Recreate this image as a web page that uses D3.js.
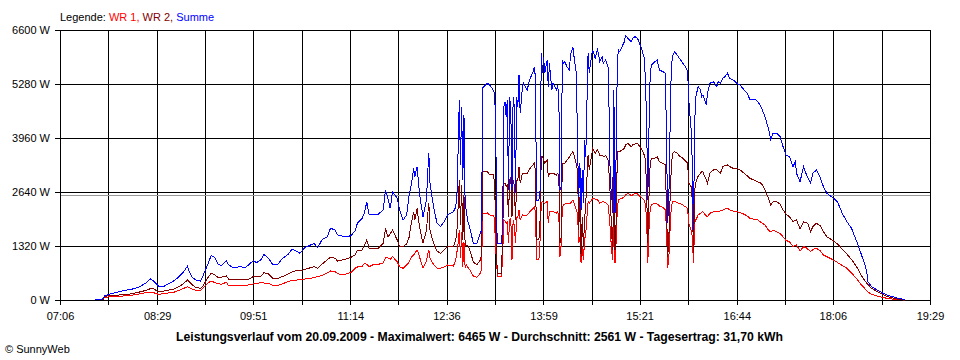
<!DOCTYPE html>
<html><head><meta charset="utf-8">
<script src="https://cdn.jsdelivr.net/npm/d3@7"></script>
<style>
html,body{margin:0;padding:0;background:#fff;}
svg{display:block;font-family:"Liberation Sans",Arial,sans-serif;}
</style></head>
<body><svg id="chart" width="960" height="360"></svg>
<script>
const times = [
"07:36","07:43","07:44","07:47","07:53","08:00","08:08","08:14","08:19","08:23",
"08:26","08:30","08:34","08:38","08:43","08:47","08:51","08:55","08:56","08:59",
"09:02","09:06","09:08","09:12","09:15","09:18","09:21","09:24","09:28","09:30",
"09:34","09:40","09:44","09:47","09:51","09:54","09:58","10:00","10:04","10:08",
"10:12","10:16","10:21","10:24","10:27","10:31","10:35","10:40","10:43","10:46",
"10:50","10:54","10:57","11:01","11:03","11:07","11:12","11:15","11:18","11:20",
"11:24","11:26","11:28","11:30","11:33","11:38","11:42","11:44","11:46","11:48",
"11:50","11:54","11:56","11:59","12:02","12:04","12:06","12:08","12:09","12:11",
"12:12","12:13","12:16","12:19","12:20","12:21","12:22","12:25","12:28","12:31",
"12:35","12:37","12:42","12:44","12:45","12:46","12:47","12:48","12:49","12:50",
"12:51","12:52","12:53","12:54","12:56","12:59","13:02","13:05","13:06","13:07",
"13:11","13:13","13:16","13:17","13:18","13:19","13:20","13:23","13:24","13:25",
"13:26","13:27","13:28","13:29","13:30","13:31","13:32","13:33","13:34","13:35",
"13:36","13:37","13:38","13:39","13:41","13:42","13:45","13:47","13:50","13:51",
"13:52","13:53","13:55","13:56","13:57","13:58","13:59","14:00","14:02","14:03",
"14:04","14:06","14:07","14:10","14:11","14:12","14:13","14:14","14:15","14:16",
"14:17","14:19","14:21","14:22","14:24","14:25","14:27","14:28","14:29","14:30",
"14:31","14:32","14:33","14:34","14:35","14:37","14:38","14:40","14:41","14:43",
"14:45","14:46","14:47","14:49","14:50","14:52","14:54","14:55","14:56","14:57",
"14:58","14:59","15:00","15:01","15:02","15:03","15:04","15:06","15:08","15:09",
"15:11","15:14","15:15","15:17","15:19","15:20","15:23","15:25","15:26","15:27",
"15:28","15:29","15:30","15:31","15:34","15:36","15:38","15:41","15:43","15:44",
"15:45","15:46","15:47","15:48","15:49","15:51","15:53","15:55","15:58","16:01",
"16:02","16:03","16:05","16:06","16:07","16:08","16:09","16:11","16:13","16:14",
"16:15","16:18","16:19","16:21","16:24","16:27","16:28","16:30","16:32","16:34",
"16:36","16:38","16:41","16:44","16:47","16:49","16:53","16:55","17:00","17:02",
"17:05","17:08","17:11","17:13","17:15","17:18","17:21","17:23","17:26","17:29",
"17:32","17:34","17:35","17:38","17:41","17:43","17:45","17:47","17:49","17:52",
"17:55","17:58","18:01","18:05","18:10","18:14","18:18","18:22","18:27","18:30",
"18:33","18:35","18:36","18:39","18:44","18:48","18:52","18:57","19:02","19:06","19:08"];

const summe = [
20,25,98,130,178,227,269,325,408,521,
464,342,325,384,464,555,667,831,716,555,
489,464,587,856,1083,1044,880,838,961,856,
790,814,790,856,961,912,995,1117,1019,856,
873,1019,1117,1239,1205,1142,1278,1344,1386,1278,
1484,1533,1753,1711,1589,1564,1547,1589,1694,1875,
1997,2119,2403,2078,2078,2102,2200,2689,2486,2242,
2647,2486,2200,1956,2078,2525,2811,3219,3014,3258,
2933,2608,2036,2444,3097,3586,2853,2281,1875,1792,
1956,2078,2158,2273,2567,3667,4889,3300,4725,2933,
4522,2322,2200,1956,1760,1386,1386,1630,1711,5182,
5297,5256,5133,5053,4522,1711,1386,1386,1792,4725,
4847,4481,4889,2689,4970,4644,2689,4970,4725,2608,
4970,4725,5500,4564,5214,5297,5133,5378,5581,5703,
5458,2444,2444,2689,6030,5541,5947,5541,5867,5214,
5786,5133,5297,5133,5256,4970,2689,2770,5867,5786,
5825,5703,5622,5989,6192,5947,5541,3748,2525,3341,
2200,3178,2364,3911,3503,6030,5541,5989,6111,5908,
6111,5989,5825,5947,5786,5867,5703,4564,2770,2689,
2127,5133,2127,3667,5867,6111,6070,6192,6314,6465,
6397,6314,6397,6436,6397,6356,6111,5908,5378,4319,
2444,4156,5458,5744,5825,5867,5622,5581,5541,3911,
1875,2525,4156,5622,5947,6070,5989,5908,5786,5664,
5581,4889,4156,3349,1711,4327,4970,5214,5133,4970,
5011,4767,5053,5297,5337,5214,5337,5297,5419,5459,
5541,5419,5378,5297,5256,5175,5053,4906,4906,4847,
4710,4481,4197,3911,4075,4075,3992,3789,3544,3503,
3258,3381,3097,2892,3258,3097,2975,2853,3097,3178,
3014,2770,2608,2525,2403,2119,1914,1753,1386,1142,
897,692,447,325,244,178,122,81,42,17,0];

const wr2 = [
0,15,81,105,115,130,154,196,232,274,
269,203,213,237,262,318,391,489,452,367,
310,286,342,530,653,623,550,562,587,513,
501,489,496,506,570,574,587,667,636,526,
526,574,636,684,709,709,746,790,814,775,
880,978,1044,1019,953,978,1014,1051,1100,1222,
1222,1344,1467,1271,1247,1271,1386,1753,1547,1613,
1711,1467,1303,1303,1369,1516,1875,2158,1956,2242,
2004,1792,1386,1711,2078,2364,1711,1386,1198,1142,
1247,1303,1303,1467,1711,2281,2933,1833,2811,1467,
2567,1344,1344,1344,1222,929,856,978,1100,3137,
3137,3056,3056,2892,2036,904,653,653,1547,2853,
2860,2770,2811,2036,2933,3014,2036,2933,2811,1956,
2933,2933,3258,2853,3097,3080,3092,3202,3300,3341,
3178,1467,1467,1956,3503,3503,3422,3341,3422,3014,
3097,3097,3097,3056,3097,3056,1386,1547,3341,3341,
3341,3422,3495,3544,3625,3544,3300,3178,1711,2525,
1058,2036,1303,1956,2364,3544,3178,3544,3708,3586,
3667,3618,3544,3544,3503,3532,3422,3056,2525,1711,
1222,3178,1222,1956,3625,3625,3625,3667,3708,3789,
3830,3747,3789,3813,3830,3801,3667,3544,3422,2689,
1386,2525,3300,3464,3464,3503,3381,3341,3300,2200,
1058,1547,2444,3178,3586,3625,3593,3520,3464,3373,
3341,2853,2770,2444,1142,2689,2860,3031,3097,3137,
3129,2933,2853,3097,3178,3178,3153,3097,3258,3288,
3300,3258,3219,3219,3178,3129,3031,2975,2921,2884,
2853,2689,2486,2322,2403,2403,2347,2224,2102,2036,
1914,1943,1956,1736,1914,1894,1858,1670,1797,1875,
1821,1674,1540,1474,1369,1247,1124,990,782,611,
489,408,379,286,203,147,90,54,17,0,0];

const wr1 = [
0,10,66,73,81,98,122,147,176,196,
178,139,154,171,188,227,276,325,306,262,
237,227,286,408,464,428,396,384,433,354,
347,342,354,367,391,408,423,416,408,354,
359,396,452,477,484,496,513,530,555,570,
604,660,709,692,648,611,648,684,775,807,
819,897,868,814,856,873,904,1027,1027,995,
1058,936,814,775,856,917,1051,1100,1142,1222,
1149,1058,775,953,1124,1222,1027,868,775,775,
819,856,831,978,1173,1386,1711,1027,1662,814,
1418,782,856,807,733,587,550,660,733,2114,
2127,2078,2066,1997,1303,814,570,570,1058,1956,
1931,1875,1907,1386,1956,1997,978,1956,1833,1386,
2004,2036,2200,1956,2078,2066,2078,2151,2237,2281,
2159,978,978,1467,2364,2403,2383,2364,2403,1875,
2159,2159,2159,2127,2159,2078,1058,1344,2281,2322,
2347,2364,2364,2364,2444,2371,2200,2119,1386,1547,
897,1303,978,1467,1630,2403,2364,2444,2486,2469,
2444,2420,2364,2396,2403,2383,2322,2078,1711,1222,
978,2078,904,1467,2281,2444,2469,2486,2530,2567,
2608,2554,2567,2608,2608,2567,2493,2444,2322,1956,
897,1711,2200,2322,2364,2347,2298,2261,2200,1711,
775,1058,1711,2249,2403,2403,2383,2359,2322,2261,
2242,1875,1711,1547,897,1875,1956,2078,2119,2151,
2159,2053,2036,2119,2159,2159,2163,2176,2200,2224,
2242,2200,2176,2159,2134,2114,2053,1997,1968,1956,
1894,1833,1711,1662,1711,1662,1630,1564,1454,1425,
1303,1332,1344,1198,1303,1283,1234,1181,1234,1264,
1210,1100,1058,1002,917,843,775,660,501,379,
293,220,200,139,98,68,42,24,17,0,0];

const timeStart = "07:06", timeEnd = "19:29";
const tickLabels = ["07:06","08:29","09:51","11:14","12:36","13:59","15:21","16:44","18:06","19:29"];
const yTicks = [0,1320,2640,3960,5280,6600];
const average = 2561;
const legendItems = ["WR 1","WR 2","Summe"];
const title = "Leistungsverlauf vom 20.09.2009 - Maximalwert: 6465 W - Durchschnitt: 2561 W - Tagesertrag: 31,70 kWh";

const colors = {"WR 1":"#ff0000","WR 2":"#800000","Summe":"#0000ff"};
const toMin = s => { const [h,m] = s.split(":").map(Number); return h*60+m; };

const svg = d3.select("#chart");
svg.append("rect").attr("width",960).attr("height",360).attr("fill","#fff");

const X0=60, X1=930, Y0=30, Y1=300;
const x = d3.scaleLinear().domain([toMin(timeStart), toMin(timeEnd)]).range([X0, X1]);
const y = d3.scaleLinear().domain([0, 6600]).range([Y1, Y0]);

const nDiv = (tickLabels.length-1)*2;
const gridVals = d3.range(nDiv+1).map(i => x.domain()[0] + i*(x.domain()[1]-x.domain()[0])/nDiv);
const px = v => Math.round(v)+0.5;

const g = svg.append("g");
g.selectAll("line.v").data(gridVals).join("line")
  .attr("x1", d=>px(x(d))).attr("x2", d=>px(x(d)))
  .attr("y1", Y0).attr("y2", Y1+5)
  .attr("stroke","#000").attr("stroke-width",1).attr("shape-rendering","crispEdges");
g.selectAll("line.h").data(yTicks).join("line")
  .attr("x1", X0-5).attr("x2", X1+1)
  .attr("y1", d=>px(y(d))).attr("y2", d=>px(y(d)))
  .attr("stroke","#000").attr("stroke-width",1).attr("shape-rendering","crispEdges");
g.append("line").attr("x1",X0+1).attr("x2",X1)
  .attr("y1",px(y(average))).attr("y2",px(y(average)))
  .attr("stroke","#999").attr("stroke-width",1).attr("shape-rendering","crispEdges");

svg.append("g").selectAll("text").data(yTicks).join("text")
  .attr("x", 50).attr("y", d=>Math.round(y(d))).attr("dy","0.36em")
  .attr("text-anchor","end").attr("font-size",11).attr("fill","#000")
  .text(d => d + " W");
svg.append("g").selectAll("text").data(tickLabels).join("text")
  .attr("x", d=>x(toMin(d))+0.5).attr("y", 320)
  .attr("text-anchor","middle").attr("font-size",11).attr("fill","#000")
  .text(d=>d);

const mins = times.map(toMin);
const series = [["WR 1", wr1],["WR 2", wr2],["Summe", summe]];
const line = d3.line().x((d,i)=>x(mins[i])).y(d=>y(d));
series.forEach(([name, vals]) => {
  svg.append("path").datum(vals).attr("d", line)
    .attr("fill","none").attr("stroke", colors[name]).attr("stroke-width",1)
    .attr("shape-rendering","crispEdges");
});

const leg = svg.append("text").attr("x",60).attr("y",21).attr("font-size",11);
leg.append("tspan").attr("fill","#000").text("Legende: ");
legendItems.forEach((n,i) => {
  leg.append("tspan").attr("fill",colors[n]).text(n + (i<legendItems.length-1 ? ", " : ""));
});

svg.append("text").attr("x",176).attr("y",341)
  .attr("font-size",12).attr("font-weight","bold").attr("fill","#000")
  .attr("textLength",607).attr("lengthAdjust","spacingAndGlyphs").text(title);
svg.append("text").attr("x",5).attr("y",353).attr("font-size",11).attr("fill","#000").text("\u00a9 SunnyWeb");
</script></body></html>
